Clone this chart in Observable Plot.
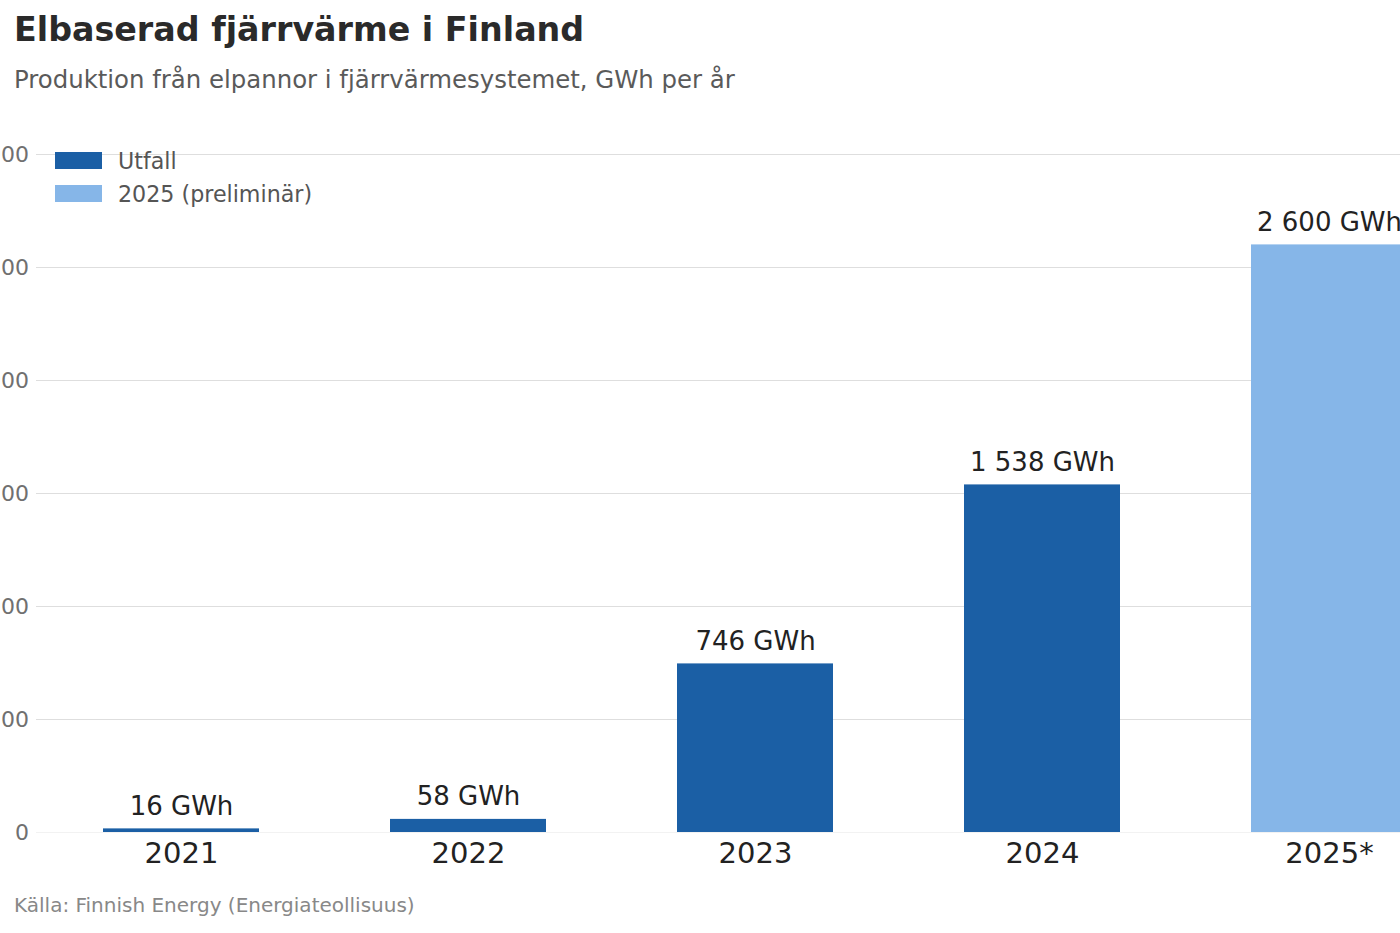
<!DOCTYPE html>
<html lang="sv">
<head>
<meta charset="utf-8">
<script src="https://cdn.jsdelivr.net/npm/d3@7"></script>
<script src="https://cdn.jsdelivr.net/npm/@observablehq/plot@0.6"></script>
<style>
  html, body { margin: 0; padding: 0; background: #fff; overflow: hidden; }
  body { width: 1400px; height: 933px; position: relative; font-family: "DejaVu Sans", sans-serif; }
  .title { position: absolute; left: 14px; top: 13px; font-size: 33.3px; line-height: 33px; font-weight: bold; color: #2a2a2a; white-space: nowrap; }
  .subtitle { position: absolute; left: 14px; top: 68px; font-size: 24.4px; line-height: 24px; color: #5a5a5a; white-space: nowrap; }
  .legend-item { position: absolute; left: 55px; height: 22px; font-size: 22.2px; line-height: 22px; color: #555; white-space: nowrap; z-index: 2; }
  .legend-item .sw { position: absolute; left: 0; width: 47px; height: 17px; }
  .legend-item .lb { position: absolute; left: 63px; top: 0; }
  .caption { position: absolute; left: 14px; top: 895px; font-size: 20px; line-height: 20px; color: #888; white-space: nowrap; }
  #chart { position: absolute; left: -44px; top: 120px; width: 1520px; }
</style>
</head>
<body>
<div class="title">Elbaserad fjärrvärme i Finland</div>
<div class="subtitle">Produktion från elpannor i fjärrvärmesystemet, GWh per år</div>
<div id="legend"></div>
<div id="chart"></div>
<div class="caption">Källa: Finnish Energy (Energiateollisuus)</div>
<script>
// Production from electric boilers in Finnish district heating, GWh per year
const years = ["2021", "2022", "2023", "2024", "2025*"];
const values = [16, 58, 746, 1538, 2600];
const kinds = ["Utfall", "Utfall", "Utfall", "Utfall", "2025 (preliminär)"];
const seriesNames = ["Utfall", "2025 (preliminär)"];
const seriesColors = ["#1b5fa5", "#86b6e8"];
const yTicks = [0, 500, 1000, 1500, 2000, 2500, 3000];

const rows = years.map((year, i) => ({year, value: values[i], kind: kinds[i]}));

// Swedish-style grouping: "1 538"
const fmt = d3.formatLocale({decimal: ",", thousands: "\u00a0", grouping: [3], currency: ["", ""]}).format(",d");

const plot = Plot.plot({
  width: 1520,
  height: 760,
  marginTop: 34,
  marginBottom: 48,
  marginLeft: 80,
  marginRight: 1.25,
  style: {fontFamily: "DejaVu Sans, sans-serif", background: "#fff", maxWidth: "none"},
  x: {type: "band", domain: years, paddingInner: 0.455, paddingOuter: 0.2275, label: null},
  y: {domain: [0, 3000], label: null},
  color: {domain: seriesNames, range: seriesColors},
  marks: [
    Plot.ruleY(yTicks.filter(t => t > 0), {stroke: "#dedede", strokeWidth: 1.2}),
    Plot.ruleY([0], {stroke: "#f2f2f2", strokeWidth: 1.2}),
    Plot.axisY({ticks: yTicks, tickSize: 0, tickPadding: 7.5, fontSize: 22, color: "#707070", tickFormat: fmt, label: null}),
    Plot.axisX({tickSize: 0, tickPadding: 10, fontSize: 29, color: "#222", label: null}),
    Plot.barY(rows, {x: "year", y: "value", fill: "kind"}),
    Plot.text(rows, {
      x: "year", y: "value",
      text: d => `${fmt(d.value)} GWh`,
      textAnchor: "middle", lineAnchor: "bottom", dy: -14,
      fontSize: 26, fill: "#222"
    })
  ]
});
document.getElementById("chart").appendChild(plot);

// Legend overlaid on the plot area
const legend = document.getElementById("legend");
const legendTops = [150, 183];
seriesNames.forEach((name, i) => {
  const item = document.createElement("div");
  item.className = "legend-item";
  item.style.top = legendTops[i] + "px";
  const sw = document.createElement("div");
  sw.className = "sw";
  sw.style.background = seriesColors[i];
  sw.style.top = "2px";
  const lb = document.createElement("div");
  lb.className = "lb";
  lb.textContent = name;
  item.appendChild(sw);
  item.appendChild(lb);
  legend.appendChild(item);
});
</script>
</body>
</html>
